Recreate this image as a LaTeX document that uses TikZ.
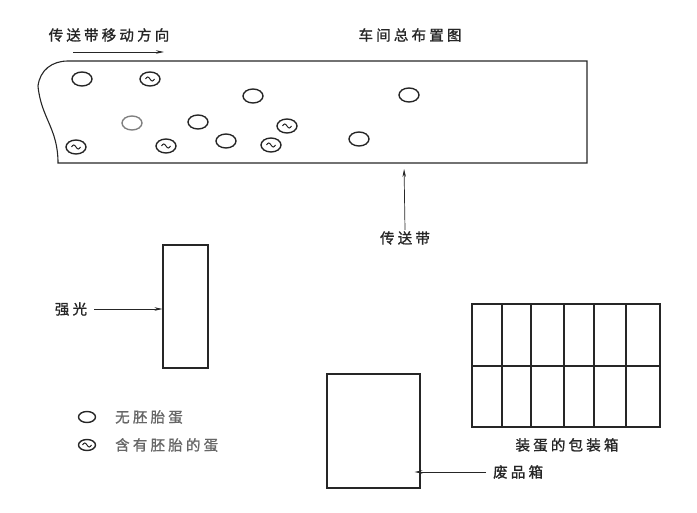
\documentclass[tikz,border=0pt]{standalone}
\usepackage{fontspec}
\newfontfamily\cjk[LetterSpace=22,FakeBold=1.2]{Noto Sans CJK SC}
\usetikzlibrary{shapes.geometric,arrows.meta}
\tikzset{
  line/.style={draw=black!85, line width=1.1pt},
  lbl/.style={font=\cjk\fontsize{14.5}{16}\selectfont, text=black!85, inner sep=1pt},
  leglbl/.style={font=\cjk\fontsize{14.5}{16}\selectfont, text=black!60, inner sep=1pt, anchor=west},
  egg/.style={ellipse, draw=black!85, line width=1.4pt, minimum width=20pt, minimum height=14pt, inner sep=0pt},
  embryo/.style={egg, path picture={\draw[line width=1pt, shift={(path picture bounding box.center)}] (-4.5,0) sin (-2.25,-2) cos (0,0) sin (2.25,2) cos (4.5,0);}},
  arr/.style={draw=black!85, line width=0.7pt, -{Stealth[length=8pt,width=3.5pt]}},
  box/.style={draw=black!85, line width=1.1pt, inner sep=0pt}
}
\begin{document}
\begin{tikzpicture}[x=1pt,y=-1pt]
\useasboundingbox (0,0) rectangle (697,513);
% titles
\node[lbl] (dir) at (109,35) {传送带移动方向};
\node[lbl] (title) at (410,35) {车间总布置图};
\coordinate (d1) at (73,52);
\coordinate (d2) at (164,52);
\draw[arr] (d1) -- (d2);
% conveyor belt
\draw[line] (587,61) -- (68,61) .. controls (52,61) and (40,70) .. (38,86) .. controls (41,118) and (58,128) .. (58,163) -- (587,163) -- cycle;
\coordinate (beltbottom) at (404,163);
% eggs
\node[egg] (e1) at (82,79) {};
\node[embryo] (e2) at (150,79) {};
\node[egg] (e3) at (253,96) {};
\node[egg, draw=black!50] (e4) at (132,123) {};
\node[egg] (e5) at (198,122) {};
\node[embryo] (e6) at (287,126) {};
\node[embryo] (e7) at (76,147) {};
\node[embryo] (e8) at (166,146) {};
\node[egg] (e9) at (226,141) {};
\node[embryo] (e10) at (271,145) {};
\node[egg] (e11) at (409,95) {};
\node[egg] (e12) at (359,139) {};
% belt label
\node[lbl] (beltlbl) at (405,238) {传送带};
\draw[arr, shorten >=6pt] (beltlbl.north) -- (beltbottom);
% strong light
\node[box, minimum width=45pt, minimum height=123pt] (light) at (185.5,306.5) {};
\node[lbl] (lightlbl) at (71,309) {强光};
\draw[arr] (lightlbl.east) ++(6,0) coordinate (ls) (ls) -- (ls -| light.west);
% legend
\node[egg, minimum width=17pt, minimum height=11pt] (lg1) at (87,417) {};
\node[embryo, minimum width=17pt, minimum height=11pt] (lg2) at (87,445) {};
\node[leglbl] (lt1) at (114,417) {无胚胎蛋};
\node[leglbl] (lt2) at (114,445) {含有胚胎的蛋};
% waste box
\node[box, minimum width=93pt, minimum height=114pt] (waste) at (373.5,431) {};
\node[lbl, anchor=west] (wastelbl) at (492,472) {废品箱};
\draw[arr] ([xshift=-6pt]wastelbl.west) -- ([xshift=-6pt]wastelbl.west -| waste.east);
% packing box
\node[box, minimum width=188pt, minimum height=123pt] (pack) at (566,365.5) {};
\draw[line] (pack.west |- 0,366) -- (pack.east |- 0,366);
\foreach \x in {502,531,564,594,626} {\draw[line] (\x,304) -- (\x,427);}
\node[lbl] (packlbl) at (567,445) {装蛋的包装箱};
\end{tikzpicture}
\end{document}
